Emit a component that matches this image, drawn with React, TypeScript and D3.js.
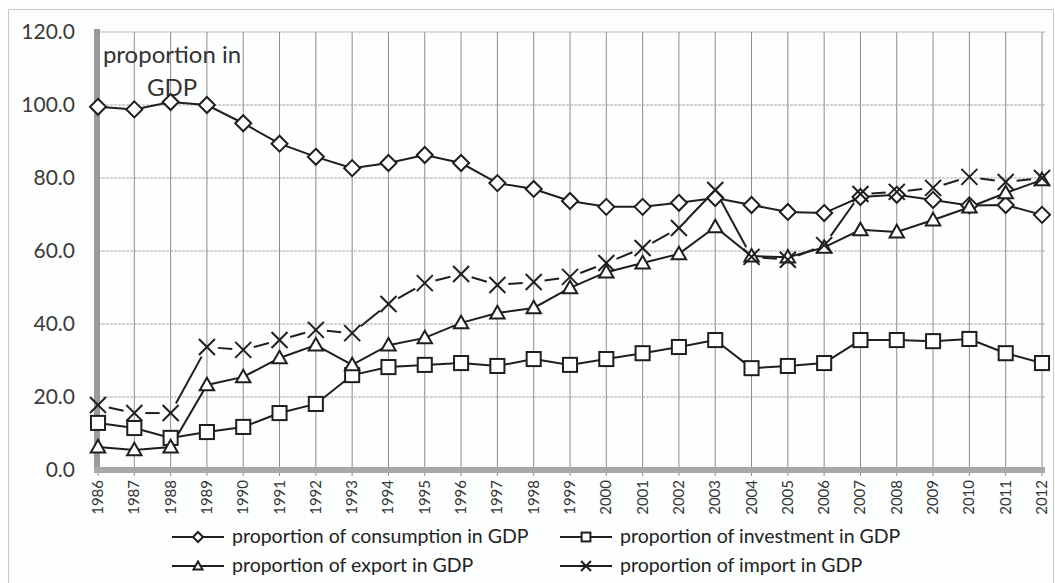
import React from "react";
import * as d3 from "d3";

// Years on the category axis
const years = [
  "1986", "1987", "1988", "1989", "1990", "1991", "1992", "1993", "1994",
  "1995", "1996", "1997", "1998", "1999", "2000", "2001", "2002", "2003",
  "2004", "2005", "2006", "2007", "2008", "2009", "2010", "2011", "2012",
];

// Shares of GDP (%)
const consumption = [
  99.5, 98.8, 100.8, 100.0, 95.0, 89.4, 85.8, 82.7, 84.1, 86.3, 84.1, 78.6,
  77.0, 73.7, 72.1, 72.1, 73.2, 74.5, 72.6, 70.7, 70.4, 74.8, 75.4, 74.0,
  72.5, 72.6, 69.9,
];
const investment = [
  12.9, 11.5, 8.8, 10.4, 11.8, 15.6, 18.1, 26.0, 28.2, 28.8, 29.3, 28.5, 30.4,
  28.8, 30.4, 32.0, 33.7, 35.6, 27.9, 28.5, 29.3, 35.6, 35.6, 35.3, 35.9,
  32.0, 29.3,
];
const exportShare = [
  6.3, 5.5, 6.3, 23.3, 25.5, 30.7, 34.2, 28.8, 34.2, 36.2, 40.3, 43.0, 44.4,
  49.9, 54.2, 56.7, 59.2, 66.6, 58.6, 58.3, 61.0, 65.8, 65.2, 68.5, 72.0,
  75.9, 79.5,
];
const importShare = [
  17.8, 15.6, 15.6, 33.7, 32.9, 35.6, 38.4, 37.5, 45.5, 51.2, 53.7, 50.7,
  51.5, 52.9, 56.7, 60.8, 66.3, 76.7, 58.4, 57.6, 61.6, 75.6, 76.2, 77.3,
  80.3, 78.9, 80.0,
];

const yTicks = [0, 20, 40, 60, 80, 100, 120];

const seriesNames = [
  "proportion of consumption in GDP",
  "proportion of investment in GDP",
  "proportion of export in GDP",
  "proportion of import in GDP",
];

const INK = "#1e1e1e";
const FONT = "Lato, 'Open Sans', sans-serif";

type Shape = "diamond" | "square" | "triangle" | "cross";

function Marker({ shape, x, y, s }: { shape: Shape; x: number; y: number; s: number }) {
  const common = { fill: "#fff", stroke: INK, strokeWidth: 2 };
  if (shape === "diamond") {
    return (
      <path
        d={`M${x},${y - s} L${x + s},${y} L${x},${y + s} L${x - s},${y} Z`}
        {...common}
      />
    );
  }
  if (shape === "square") {
    const h = s * 0.88;
    return <rect x={x - h} y={y - h} width={2 * h} height={2 * h} {...common} />;
  }
  if (shape === "triangle") {
    const w = s * 0.9;
    return (
      <path
        d={`M${x},${y - w} L${x + w},${y + w * 0.75} L${x - w},${y + w * 0.75} Z`}
        {...common}
      />
    );
  }
  return (
    <g stroke={INK} strokeWidth={2}>
      <line x1={x - s} y1={y - s} x2={x + s} y2={y + s} />
      <line x1={x - s} y1={y + s} x2={x + s} y2={y - s} />
    </g>
  );
}

export default function App() {
  const W = 1055;
  const H = 583;
  const left = 98;
  const right = 1042;
  const top = 32;
  const bottom = 470;

  const x = d3.scalePoint<string>().domain(years).range([left, right]);
  const y = d3.scaleLinear().domain([0, 120]).range([bottom, top]);

  const line = d3
    .line<number>()
    .x((_, i) => x(years[i]) as number)
    .y((v) => y(v));

  const series: { values: number[]; shape: Shape }[] = [
    { values: consumption, shape: "diamond" },
    { values: investment, shape: "square" },
    { values: exportShare, shape: "triangle" },
    { values: importShare, shape: "cross" },
  ];

  // Import line: segments trimmed short of each cross marker
  const trimmedSegments = (vals: number[], gap: number) => {
    const segs: [number, number, number, number][] = [];
    for (let i = 0; i < vals.length - 1; i++) {
      const x1 = x(years[i]) as number;
      const y1 = y(vals[i]);
      const x2 = x(years[i + 1]) as number;
      const y2 = y(vals[i + 1]);
      const len = Math.hypot(x2 - x1, y2 - y1);
      const ux = (x2 - x1) / len;
      const uy = (y2 - y1) / len;
      segs.push([x1 + ux * gap, y1 + uy * gap, x2 - ux * gap, y2 - uy * gap]);
    }
    return segs;
  };

  const legendItems = [
    { name: seriesNames[0], shape: "diamond" as Shape, lx: 172, ly: 537 },
    { name: seriesNames[1], shape: "square" as Shape, lx: 560, ly: 537 },
    { name: seriesNames[2], shape: "triangle" as Shape, lx: 172, ly: 566 },
    { name: seriesNames[3], shape: "cross" as Shape, lx: 560, ly: 566 },
  ];

  return (
    <svg
      width={W}
      height={H}
      style={{ position: "absolute", left: 0, top: 0, background: "#fff" }}
      fontFamily={FONT}
    >
      <rect x={0} y={0} width={W} height={H} fill="#fdfefe" />
      <rect x={8.5} y={9.5} width={W - 10} height={H} fill="none" stroke="#c8c8c8" strokeWidth={1} />

      {/* horizontal grid */}
      {yTicks.map((t) => (
        <line
          key={"h" + t}
          x1={left}
          x2={right + 3}
          y1={y(t)}
          y2={y(t)}
          stroke="#a6a6a6"
          strokeWidth={1.2}
          strokeDasharray="3,1"
        />
      ))}
      {/* vertical grid */}
      {years.map((yr) => (
        <line
          key={"v" + yr}
          x1={x(yr)}
          x2={x(yr)}
          y1={top}
          y2={bottom + 6}
          stroke="#8c8c8c"
          strokeWidth={1}
        />
      ))}

      {/* axes */}
      <line x1={left - 1} x2={left - 1} y1={top - 3} y2={bottom + 3} stroke="#9a9a9a" strokeWidth={6} />
      <line x1={left - 4} x2={right + 3} y1={bottom} y2={bottom} stroke="#a8a8a8" strokeWidth={6} />

      {/* y tick labels */}
      {yTicks.map((t) => (
        <text
          key={"yl" + t}
          x={75}
          y={y(t) + 7}
          textAnchor="end"
          fontSize={21}
          fill="#3a3a3a"
        >
          {t.toFixed(1)}
        </text>
      ))}

      {/* x tick labels */}
      {years.map((yr) => (
        <text
          key={"xl" + yr}
          transform={`translate(${(x(yr) as number) + 5},${bottom + 10}) rotate(-90)`}
          textAnchor="end"
          fontSize={15}
          fill="#333"
        >
          {yr}
        </text>
      ))}

      {/* axis title inside plot */}
      <text x={172} y={63} textAnchor="middle" fontSize={24} fill="#333">
        proportion in
      </text>
      <text x={172} y={96} textAnchor="middle" fontSize={24} fill="#333">
        GDP
      </text>

      {/* lines */}
      {series.slice(0, 3).map((s, i) => (
        <path key={"l" + i} d={line(s.values) ?? ""} fill="none" stroke={INK} strokeWidth={2} />
      ))}
      {trimmedSegments(importShare, 11).map((sg, i) => (
        <line key={"ims" + i} x1={sg[0]} y1={sg[1]} x2={sg[2]} y2={sg[3]} stroke={INK} strokeWidth={2} />
      ))}

      {/* markers */}
      {series.map((s, si) => (
        <g key={"m" + si}>
          {s.values.map((v, i) => (
            <Marker key={i} shape={s.shape} x={x(years[i]) as number} y={y(v)} s={8} />
          ))}
        </g>
      ))}

      {/* legend */}
      {legendItems.map((it) => (
        <g key={it.name}>
          <line x1={it.lx} x2={it.lx + 52} y1={it.ly} y2={it.ly} stroke={INK} strokeWidth={2} />
          <Marker shape={it.shape} x={it.lx + 26} y={it.ly} s={5} />
          <text x={it.lx + 60} y={it.ly + 6} fontSize={19.5} fill="#222">
            {it.name}
          </text>
        </g>
      ))}
    </svg>
  );
}
